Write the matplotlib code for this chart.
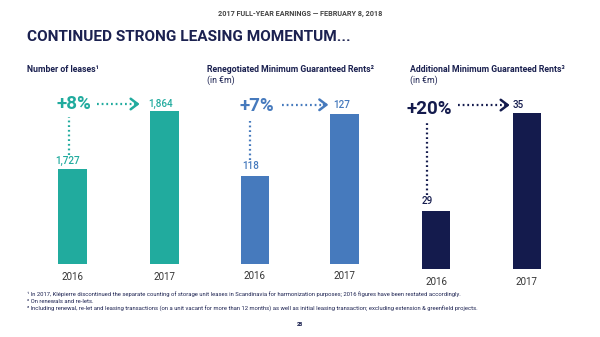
import matplotlib
matplotlib.use("Agg")
import matplotlib.pyplot as plt

# ---- data ----
years = ["2016", "2017"]
leases = [1727, 1864]
reneg_mgr = [118, 127]
add_mgr = [29, 35]
growth_labels = ["+8%", "+7%", "+20%"]
value_labels_leases = ["1,727", "1,864"]
value_labels_reneg = ["118", "127"]
value_labels_add = ["29", "35"]
subtitles = ["Number of leases¹", "Renegotiated Minimum Guaranteed Rents²",
             "Additional Minimum Guaranteed Rents³"]
units = ["", "(in €m)", "(in €m)"]

TEAL = "#21ab9e"
BLUE = "#467abd"
NAVY = "#141b4d"
DARK = "#1b2150"
GREY = "#333333"
FONT = "Roboto"

W, H = 600, 337
fig = plt.figure(figsize=(6.0, 3.37), dpi=100)
fig.patch.set_facecolor("white")

def fx(px):
    return px / W

def fy(py):
    return 1 - py / H

# header & title
fig.text(fx(300), fy(14), "2017 FULL-YEAR EARNINGS — FEBRUARY 8, 2018", ha="center", va="center",
         fontsize=5.2, fontweight="bold", color="#444444", family=FONT)
fig.text(fx(27), fy(37), "CONTINUED STRONG LEASING MOMENTUM...", ha="left", va="center",
         fontsize=11.1, fontweight="bold", color=DARK, family=FONT)

DOT = (0, (0.8, 1.3))

panels = [
    dict(vals=leases, labels=value_labels_leases, color=TEAL, growth=growth_labels[0],
         c0=72.5, sep=92, bottom=264, ylim=(1502.6, 1890.0), sx=27,
         g_x=0.02, g_dy=7, arr=(0.266, 0.70), arr_dy=7,
         lab17=(-0.18, 7), lab16=(-0.19, 8), vline=(-0.038, 14, 6), ylab=13),
    dict(vals=reneg_mgr, labels=value_labels_reneg, color=BLUE, growth=growth_labels[1],
         c0=255, sep=89.5, bottom=264, ylim=(105.2, 129.0), sx=207,
         g_x=0.017, g_dy=8, arr=(0.302, 0.79), arr_dy=9,
         lab17=(-0.128, 9), lab16=(-0.145, 10), vline=(-0.056, 16, 7), ylab=12),
    dict(vals=add_mgr, labels=value_labels_add, color=NAVY, growth=growth_labels[2],
         c0=436, sep=91, bottom=269, ylim=(25.45, 35.8), sx=410,
         g_x=-0.071, g_dy=4, arr=(0.242, 0.78), arr_dy=8,
         lab17=(-0.154, 8), lab16=(-0.154, 10), vline=(-0.099, 16, 9), ylab=13),
]

TOP_PX = 100
for i, p in enumerate(panels):
    left_px = p["c0"] - 0.5 * p["sep"]
    width_px = 2 * p["sep"]
    h_px = p["bottom"] - TOP_PX
    ax = fig.add_axes([fx(left_px), fy(p["bottom"]), width_px / W, h_px / H])
    ax.set_xlim(-0.5, 1.5)
    ax.set_ylim(*p["ylim"])
    ax.axis("off")
    xs = [0, 1]
    ax.bar(xs, p["vals"], width=0.315, color=p["color"], bottom=0, zorder=2)
    yr = p["ylim"][1] - p["ylim"][0]
    def dy(px, yr=yr, h_px=h_px):
        return px * yr / h_px
    v16, v17 = p["vals"]
    for x, y in zip(xs, years):
        ax.text(x, p["ylim"][0] - dy(p["ylab"]), y, ha="center", va="center",
                fontsize=7, color=GREY, family=FONT, clip_on=False)
    ax.text(1 + p["lab17"][0], v17 + dy(p["lab17"][1]), p["labels"][1], ha="left", va="center",
            fontsize=7.1, color=p["color"], family=FONT, fontweight="medium", clip_on=False)
    ax.text(0 + p["lab16"][0], v16 + dy(p["lab16"][1]), p["labels"][0], ha="left", va="center",
            fontsize=7.1, color=p["color"], family=FONT, fontweight="medium", clip_on=False)
    ax.text(p["g_x"], v17 + dy(p["g_dy"]), p["growth"], ha="center", va="center",
            fontsize=13.5, fontweight="bold", color=p["color"], family=FONT, clip_on=False)
    ya = v17 + dy(p["arr_dy"])
    x0, x1 = p["arr"]
    ax.plot([x0, x1 - 0.04], [ya, ya], color=p["color"], lw=1.6,
            linestyle=DOT, dash_capstyle="butt", clip_on=False)
    ax.annotate("", xy=(x1 + 0.03, ya), xytext=(x1 - 0.02, ya),
                arrowprops=dict(arrowstyle="->,head_length=0.5,head_width=0.38",
                                color=p["color"], lw=1.8, shrinkA=0, shrinkB=0),
                annotation_clip=False)
    vx, vb, vt = p["vline"]
    ax.plot([vx, vx], [v16 + dy(vb), v17 - dy(vt)], color=p["color"], lw=1.6,
            linestyle=DOT, dash_capstyle="butt", clip_on=False)
    fig.text(fx(p["sx"]), fy(70), subtitles[i], ha="left", va="center",
             fontsize=6.3, fontweight="bold", color=DARK, family=FONT)
    if units[i]:
        fig.text(fx(p["sx"]), fy(80), units[i], ha="left", va="center",
                 fontsize=6.3, color=DARK, family=FONT)

foot = [
    "¹ In 2017, Klépierre discontinued the separate counting of storage unit leases in Scandinavia for harmonization purposes; 2016 figures have been restated accordingly.",
    "² On renewals and re-lets.",
    "³ Including renewal, re-let and leasing transactions (on a unit vacant for more than 12 months) as well as initial leasing transaction; excluding extension & greenfield projects.",
]
for t, y in zip(foot, [294, 301.5, 309]):
    fig.text(fx(27), fy(y), t, ha="left", va="center", fontsize=4.2, color=DARK, family=FONT)
fig.text(fx(300), fy(324), "28", ha="center", va="center", fontsize=4, fontweight="bold",
         color=DARK, family=FONT)

fig.savefig("out.png", dpi=100, facecolor="white")
